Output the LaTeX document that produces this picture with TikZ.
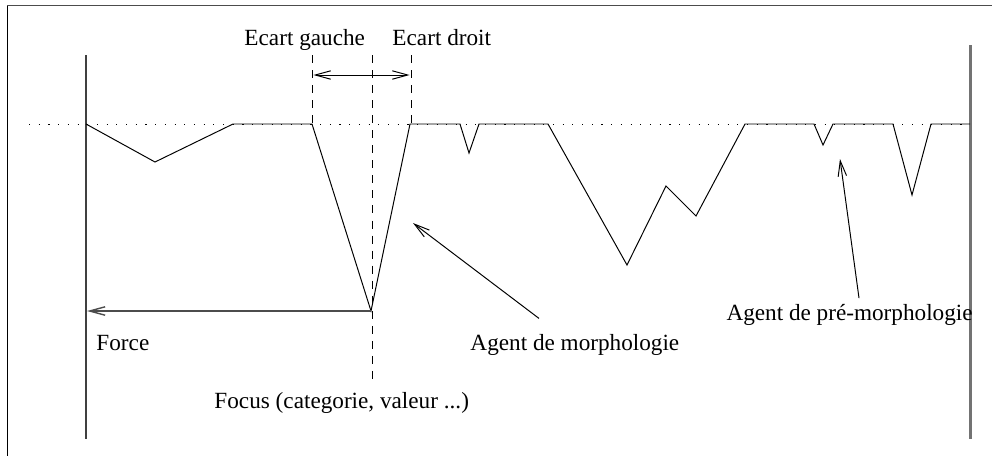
\documentclass[tikz,border=0pt]{standalone}
\usepackage{fontspec}
\setmainfont{Liberation Serif}
\usetikzlibrary{arrows.meta,positioning}

\begin{document}
\begin{tikzpicture}[x=0.025cm, y=-0.025cm, line width=0.7pt, line join=miter,
  lbl/.style={anchor=base west, inner sep=0pt, font=\fontsize{16.5}{19}\selectfont},
  barb/.style={-{Straight Barb[length=11pt,width=6pt]}},
  dbarb/.style={{Straight Barb[length=11pt,width=6pt]}-{Straight Barb[length=11pt,width=6pt]}},
  guide/.style={dash pattern=on 5.7pt off 5pt},
  level/.style={dash pattern=on 0.8pt off 6.1pt}]
\useasboundingbox (0,0) rectangle (992,456);
% frame
\draw[black!70, line width=1.2pt] (7,5.5) -- (992,5.5);
\draw (7,5.5) -- (7,456);
% bounds
\draw[black!75, line width=0.8pt] (86,55) -- (86,439);
\draw[black!55, line width=1.6pt] (970.5,45) -- (970.5,439);
% reference level
\draw[level] (29,124) -- (970,124);
% profile
\draw (86,124) -- (155,162) -- (233,124) -- (312,124) -- (371,311) -- (410,124)
  -- (460,124) -- (469,153) -- (479,124) -- (548,124) -- (627,265) -- (666,186)
  -- (696,216) -- (745,124) -- (814,124) -- (823,145) -- (833,124) -- (893,124)
  -- (912,195) -- (931,124) -- (970,124);
% focus and gaps
\coordinate (vbot) at (371,311);
\coordinate (forcetip) at (87,311);
\coordinate (gleft) at (312,75);
\coordinate (gright) at (411,75);
\draw[guide] (312,55) -- (312,124);
\draw[guide] (372,55) -- (372,379);
\draw[guide] (411,55) -- (411,124);
\draw[dbarb] ([xshift=1]gleft) -- ([xshift=-1]gright);
% labels
\node[lbl] (ecartg) at (244,45.7) {Ecart gauche};
\node[lbl] (ecartd) at (392,45.7) {Ecart droit};
\node[lbl] (force) at (96,350) {Force};
\node[lbl] (focus) at (214,408) {Focus (categorie, valeur ...)};
\node[lbl] (morph) at (470,350) {Agent de morphologie};
\node[lbl] (premorph) at (726,320.7) {Agent de pré-morphologie};
% pointers
\coordinate (morphtip) at (413,223);
\coordinate (premorphtip) at (840,159);
\draw[barb, black!70, line width=1pt] (vbot) -- (forcetip);
\draw[barb] ([shift={(69,-15)}]morph.north west) -- (morphtip);
\draw[barb] ([shift={(133,-6)}]premorph.north west) -- (premorphtip);
\end{tikzpicture}
\end{document}
